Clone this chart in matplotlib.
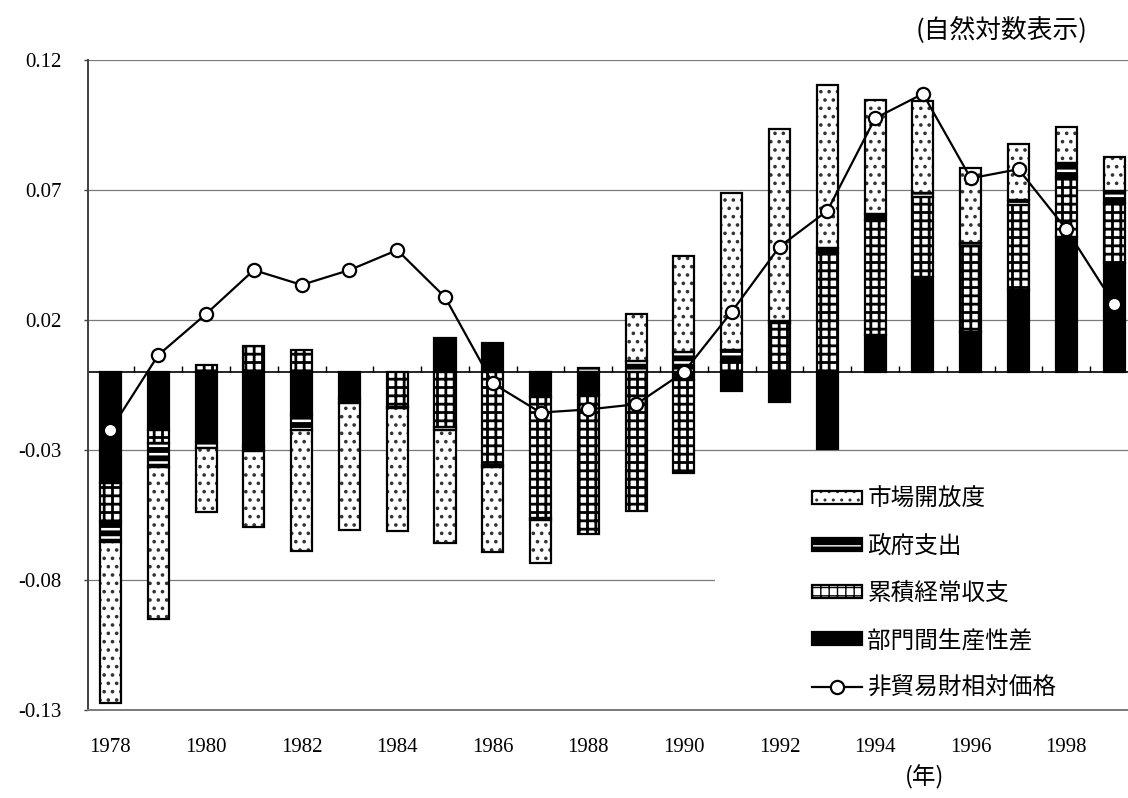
import numpy as np
import matplotlib
matplotlib.use("Agg")
import matplotlib.pyplot as plt
from matplotlib.patches import Patch, Rectangle
from matplotlib.lines import Line2D

plt.rcParams['font.family'] = ['Noto Sans CJK JP', 'DejaVu Sans']

# ---- data -------------------------------------------------------------
years = list(range(1978, 2000))
x_tick_years = [1978, 1980, 1982, 1984, 1986, 1988, 1990, 1992, 1994, 1996, 1998]
x_tick_labels = ["1978", "1980", "1982", "1984", "1986", "1988",
                 "1990", "1992", "1994", "1996", "1998"]
y_ticks = [-0.13, -0.08, -0.03, 0.02, 0.07, 0.12]
y_tick_labels = ["-0.13", "-0.08", "-0.03", "0.02", "0.07", "0.12"]

# contributions (natural log), stacked in this order away from zero
productivity = [-0.0427, -0.0223, -0.0268, -0.0290, -0.0165, -0.0105, 0.0, 0.0130,
                0.0113, -0.0095, -0.0090, 0.0, -0.0030, -0.0072, -0.0117, -0.0297,
                0.0141, 0.0364, 0.0155, 0.0315, 0.0520, 0.0418]
current_account = [-0.0149, -0.0051, 0.0027, 0.0100, 0.0085, 0.0, -0.0133, -0.0210,
                   -0.0358, -0.0468, -0.0532, -0.0534, -0.0359, 0.0040, 0.0188, 0.0459,
                   0.0443, 0.0310, 0.0330, 0.0327, 0.0231, 0.0231]
government = [-0.0077, -0.0090, -0.0024, -0.0014, -0.0058, -0.0014, -0.0005, -0.0013,
              -0.0007, -0.0005, 0.0017, 0.0042, 0.0078, 0.0045, 0.0009, 0.0017,
              0.0023, 0.0015, 0.0010, 0.0019, 0.0051, 0.0049]
openness = [-0.0620, -0.0586, -0.0245, -0.0291, -0.0464, -0.0488, -0.0472, -0.0436,
            -0.0326, -0.0168, 0.0, 0.0182, 0.0368, 0.0603, 0.0738, 0.0626,
            0.0441, 0.0352, 0.0288, 0.0214, 0.0141, 0.0128]
relative_price = [-0.0223, 0.0065, 0.0223, 0.0392, 0.0335, 0.0392, 0.0469, 0.0288,
                  -0.0044, -0.0156, -0.0144, -0.0124, 0.0, 0.0232, 0.0482, 0.0620,
                  0.0976, 0.1070, 0.0745, 0.0780, 0.0549, 0.0262]

label_open = "市場開放度"
label_gov = "政府支出"
label_ca = "累積経常収支"
label_prod = "部門間生産性差"
label_price = "非貿易財相対価格"

# ---- styles -------------------------------------------------------------
styles = {
    "prod": dict(face="black", hatch=None, hcolor="black", hlw=1.0),
    "ca": dict(face="white", hatch="++", hcolor="black", hlw=2.0),
    "gov": dict(face="black", hatch="--", hcolor="white", hlw=1.8),
    "open": dict(face="white", hatch="..", hcolor="#333333", hlw=1.4),
}
BAR_W = 0.44
OUTLINE = 1.6

fig = plt.figure(figsize=(11.28, 7.98), dpi=100)
ax = fig.add_axes([88 / 1128, (798 - 710) / 798, 1050 / 1128, 650 / 798])
ax.set_xlim(-0.47, 21.5)
ax.set_ylim(y_ticks[0], y_ticks[-1])

x = np.arange(len(years))
pos_base = np.zeros(len(years))
neg_base = np.zeros(len(years))


def draw_series(values, st):
    vals = np.asarray(values, dtype=float)
    base = np.where(vals >= 0, pos_base, neg_base)
    keep = vals != 0
    with plt.rc_context({"hatch.linewidth": st["hlw"], "hatch.color": st["hcolor"]}):
        bars = ax.bar(x[keep], vals[keep], bottom=base[keep], width=BAR_W,
                      color=st["face"], edgecolor=st["hcolor"], linewidth=0,
                      hatch=st["hatch"], zorder=2)
        for b in bars:
            if hasattr(b, "set_hatch_linewidth"):
                b.set_hatch_linewidth(st["hlw"])
    ax.bar(x[keep], vals[keep], bottom=base[keep], width=BAR_W, fill=False,
           edgecolor="black", linewidth=OUTLINE, zorder=2.1)
    pos_base[:] = pos_base + np.where(vals > 0, vals, 0)
    neg_base[:] = neg_base + np.where(vals < 0, vals, 0)


draw_series(productivity, styles["prod"])
draw_series(current_account, styles["ca"])
draw_series(government, styles["gov"])
draw_series(openness, styles["open"])

# zero line with category-boundary ticks
ax.axhline(0, color="black", lw=1.2, zorder=1.5)
boundaries = x[1:] - 0.5
ax.plot(boundaries, np.zeros_like(boundaries, dtype=float), ls="none", marker=2,
        ms=4.5, mew=1.0, color="black", zorder=1.5)

# relative price line
ax.plot(x, relative_price, color="black", lw=1.6, marker="o", ms=9.5,
        mfc="white", mec="black", mew=1.6, zorder=4)

# axes styling
ax.set_axisbelow(True)
ax.set_yticks(y_ticks)
ax.set_yticklabels(y_tick_labels, family="Liberation Serif", fontsize=15)
ax.yaxis.grid(True, color="#7a7a7a", lw=0.9)
ax.tick_params(axis="y", direction="out", length=3, width=1, color="#404040", pad=16)
ax.set_xticks([years.index(y) for y in x_tick_years])
ax.set_xticklabels(x_tick_labels, family="Liberation Serif", fontsize=15)
ax.tick_params(axis="x", length=0, pad=20)
for side in ("top", "right"):
    ax.spines[side].set_visible(False)
ax.spines["left"].set_color("#404040")
ax.spines["left"].set_linewidth(1.4)
ax.spines["bottom"].set_color("#7a7a7a")
ax.spines["bottom"].set_linewidth(1.4)

# white backdrop behind the legend
ax.add_patch(Rectangle(((715 - 88) / 1050, (710 - 707) / 650), 0.5, (707 - 458) / 650,
                       transform=ax.transAxes, facecolor="white", edgecolor="none",
                       zorder=1.2))


def legend_patch(st):
    with plt.rc_context({"hatch.linewidth": st["hlw"], "hatch.color": st["hcolor"]}):
        fill = Patch(facecolor=st["face"], edgecolor=st["hcolor"], linewidth=0,
                     hatch=st["hatch"])
        if hasattr(fill, "set_hatch_linewidth"):
            fill.set_hatch_linewidth(st["hlw"])
    outline = Patch(facecolor="none", edgecolor="black", linewidth=OUTLINE)
    return (fill, outline)


handles = [legend_patch(styles["open"]), legend_patch(styles["gov"]),
           legend_patch(styles["ca"]), legend_patch(styles["prod"]),
           Line2D([], [], color="black", lw=1.6, marker="o", ms=9.5, mfc="white",
                  mec="black", mew=1.6)]
labels = [label_open, label_gov, label_ca, label_prod, label_price]
fig.legend(handles, labels, loc="upper left",
           bbox_to_anchor=(812 / 1128, 1 - 488 / 798), frameon=False, borderpad=0,
           borderaxespad=0, fontsize=17, handlelength=2.1, handleheight=0.45,
           handletextpad=0.25, labelspacing=1.02)

fig.text(1088 / 1128, 1 - 31 / 798, "(自然対数表示)", ha="right", va="center", fontsize=18.5)
fig.text(925 / 1128, 1 - 777 / 798, "(年)", ha="center", va="center", fontsize=17)

fig.savefig("out.png", dpi=100)
